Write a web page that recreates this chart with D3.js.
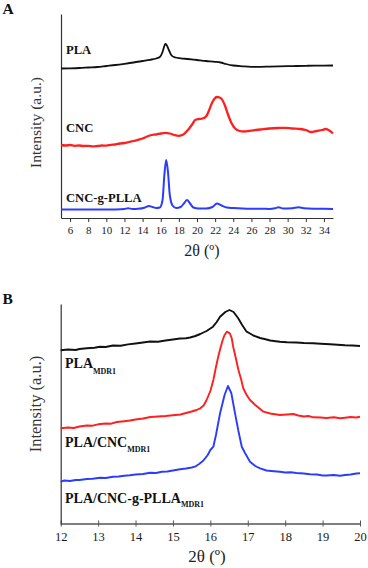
<!DOCTYPE html>
<html>
<head>
<meta charset="utf-8">
<script src="https://cdn.jsdelivr.net/npm/d3@7"></script>
<style>
html,body{margin:0;padding:0;background:#fff;}
svg{display:block;}
text{font-family:"Liberation Serif","Times New Roman",serif;}
</style>
</head>
<body>
<svg id="chart" width="368" height="568"></svg>
<script>
// ---------- Panel A data (2θ in degrees, intensity in a.u.) ----------
const ticksA = [6,8,10,12,14,16,18,20,22,24,26,28,30,32,34];
const plaA_theta = [5,6,7,8,9,10,11,12,13,14,14.8,15.5,15.9,16.2,16.4,16.5,16.65,16.9,17.2,17.6,18.2,19,20,21,22,22.6,23.2,24,25,26,27,28,29,30,31,32,33,34,35];
const plaA_int   = [149.5,149.7,150,150.5,151,152,153,154.2,155.5,157,158.2,159.5,161,166,172,174,173,168,162.5,160.5,159.7,159,158,157,156.2,155.5,154,152.5,151.7,151.2,151.2,151.4,151.6,151.8,152,152.2,152.3,152.4,152.5];
const cncA_theta = [5,5.5,6,6.5,7,7.5,8,8.5,9,9.5,10,10.5,11,11.5,12,12.5,13,13.5,14,14.5,15,15.5,16,16.5,17,17.5,18,18.5,19,19.5,19.8,20.2,20.6,21,21.3,21.6,21.9,22.2,22.5,22.8,23.1,23.4,23.8,24.2,24.7,25.2,25.7,26.2,27,28,29,29.7,30.5,31.4,32,32.6,33.2,33.8,34.2,34.6,35];
const cncA_int   = [73,72.5,73,72.2,72.5,72,72.2,71.7,72,72.5,72.4,73.2,73.5,74.5,75,76,77,78.2,79.5,81.5,83,83.5,84.5,85.2,84.5,83,82.2,83.5,88,94,98,99,99.5,101.5,107,114,119,121,120.5,118,112,104,95,89.5,87,86.5,87,87.7,88.5,89.5,90,90.2,89.5,89,88,86,87,88,89,87.5,84.5];
const pllaA_theta = [5,7,9,11,12,12.4,12.9,13.5,14.2,14.7,15.1,15.5,15.9,16.2,16.4,16.6,16.8,17,17.3,17.7,18.2,18.6,18.9,19.2,19.6,20.2,21,21.7,22.2,22.7,23.3,24,25,26,27,28,28.6,29,29.5,30.5,31.2,31.8,33,34,35];
const pllaA_int   = [8.5,8.5,8.4,8.6,9,9.7,9,9.2,10.2,12,11,10,10.5,18,43,58,46,23,12.5,10,11,15,18,15,10.5,9.5,9.5,11,14.5,12.5,10.5,10,9.5,9.3,9.3,9,9.7,10.7,9.5,9.7,10.7,9.7,9.3,9.2,9];

// ---------- Panel B data ----------
const ticksB = [12,13,14,15,16,17,18,19,20];
const plaB_theta = [12,12.2,12.4,12.5,12.7,12.9,13.05,13.2,13.4,13.6,13.8,14,14.2,14.39,14.6,14.8,15,15.19,15.35,15.46,15.6,15.73,15.9,16.07,16.17,16.26,16.4,16.51,16.62,16.74,16.85,16.97,17.06,17.15,17.33,17.5,17.6,17.75,17.86,18.05,18.3,18.5,18.75,18.95,19.2,19.4,19.6,19.8,20];
const plaB_int   = [173.7,174.5,174,175,175.8,176.3,177.3,177,178.5,178.2,179.6,180.5,181.5,182.5,182.3,183.5,184.5,185.5,185.8,186.5,188,190,193,197.3,202,207.3,212,214,212,206,199,192.3,190.5,188.5,186,184.5,183.5,182.8,182.3,181.8,181.5,181,180.7,180.2,179.7,179.2,178.7,178.5,178];
const cncB_theta = [12,12.2,12.35,12.5,12.7,12.85,13,13.2,13.35,13.5,13.7,13.85,14,14.2,14.4,14.6,14.8,15,15.2,15.35,15.5,15.63,15.73,15.82,15.9,16,16.08,16.15,16.21,16.27,16.33,16.38,16.44,16.52,16.57,16.61,16.68,16.75,16.82,16.88,16.97,17.06,17.2,17.42,17.6,17.86,18.05,18.22,18.35,18.5,18.62,18.75,18.95,19.1,19.3,19.47,19.6,19.75,19.9,20];
const cncB_int   = [95.7,96.5,96,97.5,98.5,98.3,99.7,100.5,100.3,102,102.8,103.5,104.5,105.5,107,107.5,108,108.8,109.5,111,112.5,114,115.7,118.5,124,133,144,157,167.3,176,184,189,192.3,190.7,186,177.3,166,154,145,135.7,129,124,119,112.3,110.5,109,109.5,110,108.5,107.5,108,106.7,106.5,106,106.8,105.7,106.3,107,106.5,107.3];
const pllaB_theta = [12,12.1,12.25,12.4,12.5,12.7,12.85,13.05,13.2,13.4,13.55,13.7,13.85,14,14.2,14.39,14.55,14.7,14.85,15,15.19,15.35,15.5,15.59,15.7,15.8,15.86,15.93,16,16.08,16.15,16.26,16.38,16.47,16.56,16.66,16.75,16.84,16.93,17.06,17.2,17.33,17.5,17.7,17.86,18,18.15,18.3,18.5,18.66,18.85,19,19.1,19.3,19.47,19.6,19.75,19.9,20];
const pllaB_int   = [42.3,43.5,43,44,44,45,45.3,46.3,46,47.3,47.5,48.3,48.7,49.5,50,51.3,51,52.3,52.5,53.5,54.7,55.5,56.5,57.3,60,63,65.7,69,74,77.3,89,110.7,129,138,131,110.7,93,77.3,70.7,62.3,58,55.7,53.5,52.8,52.3,51.5,51.8,51,50.5,49.7,49.5,48.5,48.5,49,48.3,49,49.5,50.5,50.7];

const seriesA = [
  {name:"PLA", theta:plaA_theta, val:plaA_int, color:"#111111", w:1.8},
  {name:"CNC", theta:cncA_theta, val:cncA_int, color:"#ff1f1f", w:2.3},
  {name:"CNC-g-PLLA", theta:pllaA_theta, val:pllaA_int, color:"#2a3dff", w:2}
];
const seriesB = [
  {name:"PLA", theta:plaB_theta, val:plaB_int, color:"#111111", w:1.9},
  {name:"PLA/CNC", theta:cncB_theta, val:cncB_int, color:"#ff1f1f", w:1.9},
  {name:"PLA/CNC-g-PLLA", theta:pllaB_theta, val:pllaB_int, color:"#2a3dff", w:1.9}
];

const svg = d3.select("#chart");
const serif = "Liberation Serif, Times New Roman, serif";

// ---------- Panel A ----------
const xA = d3.scaleLinear().domain([5,35]).range([61,333]);
const yA = d3.scaleLinear().domain([0,204]).range([218,14]);
const gA = svg.append("g");

const axA = gA.append("g").attr("transform","translate(0,218)")
  .call(d3.axisBottom(xA).tickValues(ticksA).tickSize(4).tickSizeOuter(0).tickPadding(4));
axA.select(".domain").attr("stroke","#333").attr("stroke-width",1.2);
axA.selectAll(".tick line").attr("stroke","#333");
axA.selectAll(".tick text").attr("font-size","11px").attr("fill","#1a1a1a").attr("font-family",serif);
const ayA = gA.append("g").attr("transform","translate(61,0)")
  .call(d3.axisLeft(yA).tickValues([]).tickSizeOuter(0));
ayA.select(".domain").attr("stroke","#333").attr("stroke-width",1.2);

seriesA.forEach(s=>{
  const pts = s.theta.map((t,i)=>[t,s.val[i]]);
  gA.append("path").datum(pts)
    .attr("fill","none").attr("stroke",s.color).attr("stroke-width",s.w)
    .attr("stroke-linejoin","round")
    .attr("d", d3.line().x(d=>xA(d[0])).y(d=>yA(d[1])).curve(d3.curveMonotoneX));
});

const labA = [{t:"PLA",y:54},{t:"CNC",y:132},{t:"CNC-g-PLLA",y:201.5}];
labA.forEach(l=>{
  gA.append("text").attr("x",66).attr("y",l.y).attr("font-size","12.6px")
    .attr("font-weight","bold").attr("fill","#111").text(l.t);
});
gA.append("text").attr("x",202).attr("y",256).attr("text-anchor","middle")
  .attr("font-size","16px").attr("fill","#222").text("2θ (º)");
gA.append("text").attr("transform","translate(41,122.5) rotate(-90)")
  .attr("text-anchor","middle").attr("font-size","15.5px").attr("fill","#333").text("Intensity (a.u.)");
gA.append("text").attr("x",2.5).attr("y",14).attr("font-size","15.5px")
  .attr("font-weight","bold").attr("fill","#111").text("A");

// ---------- Panel B ----------
const xB = d3.scaleLinear().domain([12,20]).range([60.7,360]);
const yB = d3.scaleLinear().domain([0,220]).range([524,304]);
const gB = svg.append("g");

const axB = gB.append("g").attr("transform","translate(0,523.5)")
  .call(d3.axisBottom(xB).tickValues(ticksB).tickSize(3).tickSizeOuter(0).tickPadding(6));
axB.select(".domain").attr("stroke","#555").attr("stroke-width",1.3);
axB.selectAll(".tick line").attr("stroke","#555").attr("y1",-3);
axB.selectAll(".tick text").attr("font-size","12.5px").attr("fill","#1a1a1a").attr("font-family",serif);
const ayB = gB.append("g").attr("transform","translate(60.7,0)")
  .call(d3.axisLeft(yB).tickValues([]).tickSizeOuter(0));
ayB.select(".domain").attr("stroke","#333").attr("stroke-width",1.2);

seriesB.forEach(s=>{
  const pts = s.theta.map((t,i)=>[t,s.val[i]]);
  gB.append("path").datum(pts)
    .attr("fill","none").attr("stroke",s.color).attr("stroke-width",s.w)
    .attr("stroke-linejoin","round")
    .attr("d", d3.line().x(d=>xB(d[0])).y(d=>yB(d[1])));
});

const labB = [{t:"PLA",y:368.3,sy:374},{t:"PLA/CNC",y:446.7,sy:452},{t:"PLA/CNC-g-PLLA",y:502.7,sy:507}];
labB.forEach(l=>{
  const tx = gB.append("text").attr("x",65).attr("y",l.y).attr("font-size","14px")
    .attr("font-weight","bold").attr("fill","#111");
  tx.append("tspan").text(l.t);
  tx.append("tspan").attr("font-size","8px").attr("dy",l.sy-l.y).text("MDR1");
});
gB.append("text").attr("x",207).attr("y",561.5).attr("text-anchor","middle")
  .attr("font-size","17px").attr("fill","#222").text("2θ (º)");
gB.append("text").attr("transform","translate(41,404) rotate(-90)")
  .attr("text-anchor","middle").attr("font-size","16.5px").attr("fill","#333").text("Intensity (a.u.)");
gB.append("text").attr("x",2.5).attr("y",304).attr("font-size","15.5px")
  .attr("font-weight","bold").attr("fill","#111").text("B");
</script>
</body>
</html>
